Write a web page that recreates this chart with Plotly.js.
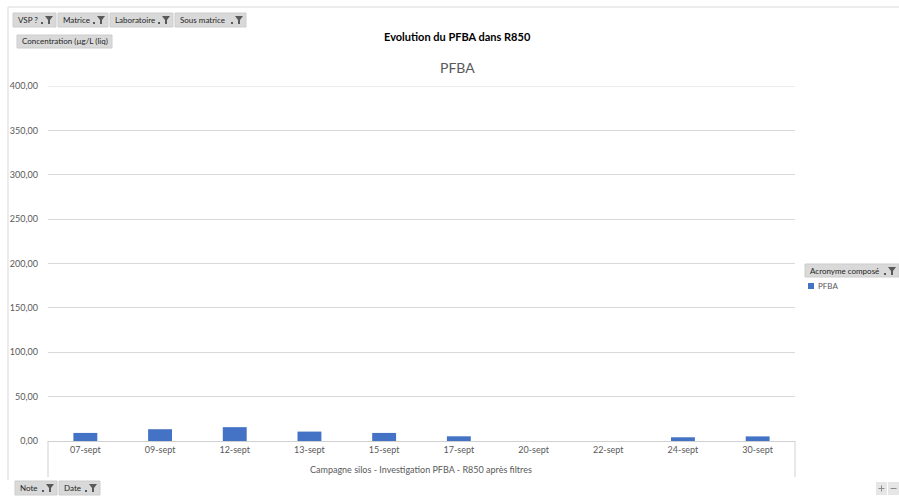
<!DOCTYPE html>
<html><head><meta charset="utf-8">
<script src="https://cdn.plot.ly/plotly-3.0.1.min.js"></script>
<style>html,body{margin:0;padding:0;background:#fff;}#chart{width:899px;height:497px;}</style>
</head><body><div id="chart"></div>
<script>
const categories = ['07-sept','09-sept','12-sept','13-sept','15-sept','17-sept','20-sept','22-sept','24-sept','30-sept'];
const pfbaValues = [9.1, 13.3, 15.6, 10.6, 9.1, 5.3, null, null, 4.2, 5.2];
const seriesName = 'PFBA';
const yTickVals = [0,50,100,150,200,250,300,350,400];
const yTickText = ['0,00','50,00','100,00','150,00','200,00','250,00','300,00','350,00','400,00'];
const topButtons = ['VSP ?','Matrice','Laboratoire','Sous matrice'];
const bottomButtons = ['Note','Date'];

const W=899,H=497,L=48,R=795,T=86,B=441;
const PW=R-L, PH=B-T;
const px=x=>(x-L)/PW, py=y=>(B-y)/PH;
const FONT='Lato, "Open Sans", sans-serif';
const BFONT='"Liberation Sans Narrow", Lato, sans-serif';
const shapes=[], ann=[];

function button(x0,x1,y0,y1,label,funnel){
  shapes.push({type:'rect',xref:'paper',yref:'paper',x0:px(x0),x1:px(x1),y0:py(y1),y1:py(y0),fillcolor:'#D9D9D9',line:{color:'#CDCDCD',width:1},layer:'above'});
  ann.push({xref:'paper',yref:'paper',x:px(x0+3),y:py((y0+y1)/2),xanchor:'left',yanchor:'middle',text:label,showarrow:false,font:{family:FONT,size:8,color:'#262626'}});
  if(funnel){
    const fx=x1-11, fy=y0+3;
    shapes.push({type:'path',xref:'paper',yref:'paper',path:`M ${px(fx)} ${py(fy)} L ${px(fx+8)} ${py(fy)} L ${px(fx+5)} ${py(fy+4)} L ${px(fx+5)} ${py(fy+8)} L ${px(fx+3)} ${py(fy+8)} L ${px(fx+3)} ${py(fy+4)} Z`,fillcolor:'#595959',line:{width:0},layer:'above'});
    shapes.push({type:'rect',xref:'paper',yref:'paper',x0:px(fx-4),x1:px(fx-2),y0:py(fy+8),y1:py(fy+6),fillcolor:'#595959',line:{width:0},layer:'above'});
  }
}
const topX=[[13,56],[58,108],[110,173],[175,246]];
topButtons.forEach((b,i)=>button(topX[i][0],topX[i][1],13,27,b,true));
button(17,112,35,48,'Concentration (µg/L (liq)',false);
const botX=[[15,57],[59,100]];
bottomButtons.forEach((b,i)=>button(botX[i][0],botX[i][1],481,495,b,true));
button(805,899,264,277,'Acronyme composé',true);
// +/- buttons
shapes.push({type:'rect',xref:'paper',yref:'paper',x0:px(876),x1:px(887),y0:py(495),y1:py(482),fillcolor:'#E6E6E6',line:{width:0}});
shapes.push({type:'rect',xref:'paper',yref:'paper',x0:px(888),x1:px(899),y0:py(495),y1:py(482),fillcolor:'#E6E6E6',line:{width:0}});
shapes.push({type:'line',xref:'paper',yref:'paper',x0:px(878.5),x1:px(884.5),y0:py(488.5),y1:py(488.5),line:{color:'#8C8C8C',width:1}});
shapes.push({type:'line',xref:'paper',yref:'paper',x0:px(881.5),x1:px(881.5),y0:py(485.5),y1:py(491.5),line:{color:'#8C8C8C',width:1}});
shapes.push({type:'line',xref:'paper',yref:'paper',x0:px(890.5),x1:px(896.5),y0:py(488.5),y1:py(488.5),line:{color:'#8C8C8C',width:1}});

// chart area border (top & left)
shapes.push({type:'line',xref:'paper',yref:'paper',x0:px(8),x1:px(899),y0:py(7),y1:py(7),line:{color:'#D9D9D9',width:1}});
shapes.push({type:'line',xref:'paper',yref:'paper',x0:px(8),x1:px(8),y0:py(7),y1:py(480),line:{color:'#D9D9D9',width:1}});
// category box lines
shapes.push({type:'line',xref:'paper',yref:'paper',x0:0,x1:0,y0:0,y1:py(477),line:{color:'#D0D0D0',width:1}});
shapes.push({type:'line',xref:'paper',yref:'paper',x0:1,x1:1,y0:0,y1:py(477),line:{color:'#D0D0D0',width:1}});
// top gridline at 400
shapes.push({type:'line',xref:'paper',yref:'y',x0:0,x1:1,y0:400,y1:400,line:{color:'#D9D9D9',width:1},layer:'below'});

// legend
shapes.push({type:'rect',xref:'paper',yref:'paper',x0:px(808),x1:px(814),y0:py(289),y1:py(283),fillcolor:'#4472C4',line:{width:0}});
ann.push({xref:'paper',yref:'paper',x:px(816),y:py(286),xanchor:'left',yanchor:'middle',text:seriesName,showarrow:false,font:{family:FONT,size:8,color:'#595959'}});

// titles
ann.push({xref:'paper',yref:'paper',x:px(457),y:py(37),xanchor:'center',yanchor:'middle',text:'<b>Evolution du PFBA dans R850</b>',showarrow:false,font:{family:FONT,size:11,color:'#000'}});
ann.push({xref:'paper',yref:'paper',x:px(457),y:py(67),xanchor:'center',yanchor:'middle',text:'PFBA',showarrow:false,font:{family:FONT,size:14,color:'#595959'}});
ann.push({xref:'paper',yref:'paper',x:px(421),y:py(470),xanchor:'center',yanchor:'middle',text:'Campagne silos - Investigation PFBA - R850 après filtres',showarrow:false,font:{family:FONT,size:9,color:'#595959'}});

const data=[{type:'bar',x:categories,y:pfbaValues,name:seriesName,marker:{color:'#4472C4'},width:0.32,hoverinfo:'x+y'}];
const layout={
  width:W,height:H,margin:{l:L,r:W-R,t:T,b:H-B,pad:0},
  paper_bgcolor:'#fff',plot_bgcolor:'#fff',showlegend:false,
  font:{family:FONT,size:9,color:'#595959'},
  xaxis:{type:'category',showgrid:false,showline:true,linecolor:'#D0D0D0',linewidth:1,ticks:'',tickfont:{family:FONT,size:9,color:'#595959'},fixedrange:true,zeroline:false},
  yaxis:{range:[0,400],tickvals:yTickVals,ticktext:yTickText,showgrid:true,gridcolor:'#D9D9D9',gridwidth:1,showline:false,zeroline:false,ticks:'',ticklabelstandoff:9,tickfont:{family:FONT,size:9,color:'#595959'},fixedrange:true},
  shapes:shapes,annotations:ann,bargap:0.68
};
Plotly.newPlot('chart',data,layout,{displayModeBar:false,staticPlot:true});
</script></body></html>
